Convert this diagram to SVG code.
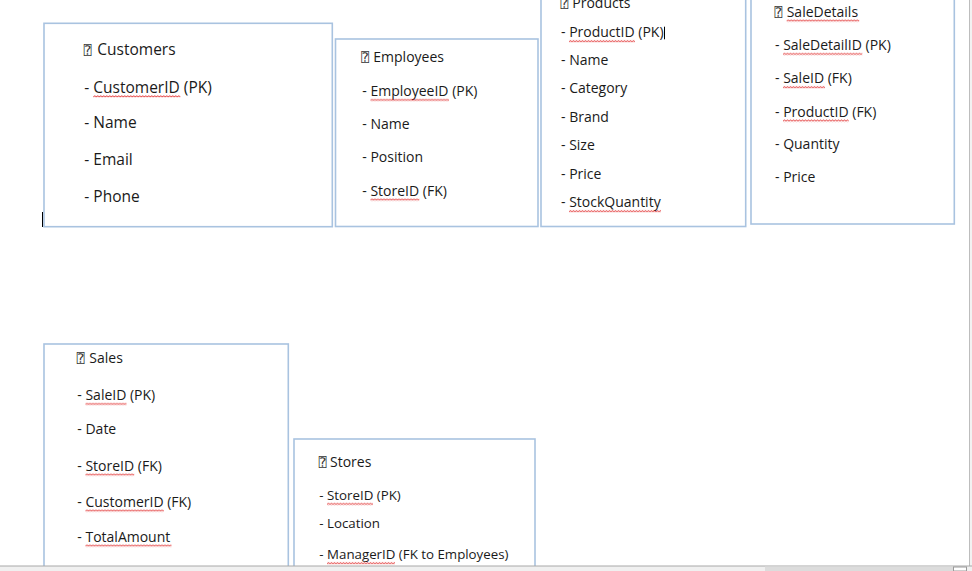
<svg xmlns="http://www.w3.org/2000/svg" width="972" height="571" viewBox="0 0 972 571">
<style>
.box{fill:#ffffff;stroke:#a9c3e0;stroke-width:1.6}
.t{font-family:"Open Sans","Noto Sans","Liberation Sans",sans-serif;font-size:14px;fill:#1a1a1a}
.tl{font-size:15.5px}
.ts{font-size:13.3px}
.ic{font-family:"DejaVu Sans Mono","DejaVu Sans",monospace;font-size:13px;fill:#333}
.sq{fill:url(#wave)}
.cur{stroke:#000;stroke-width:1}
</style>
<defs>
<pattern id="wave" patternUnits="userSpaceOnUse" width="3" height="3">
<path d="M0,2.4 L1.5,0.6 L3,2.4" fill="none" stroke="#e02828" stroke-width="1"/>
</pattern>
</defs>
<rect x="0" y="0" width="972" height="571" fill="#ffffff"/>

<g id="customers">
<rect class="box" x="44" y="23.3" width="288.3" height="203.4"/>
<text class="ic" x="83.8" y="55">⍰</text>
<text class="t tl" x="97.3" y="55">Customers</text>
<text class="t tl" x="84.3" y="92.5">- CustomerID (PK)</text>
<text class="t tl" x="84.3" y="128.3">- Name</text>
<text class="t tl" x="84.3" y="165">- Email</text>
<text class="t tl" x="84.3" y="201.7">- Phone</text>
<rect class="sq" transform="translate(93.3,95)" width="87" height="3"/>
</g>

<g id="employees">
<rect class="box" x="335.5" y="39" width="202.5" height="187.5"/>
<text class="ic" x="361.2" y="62.3">⍰</text>
<text class="t" x="373.3" y="62.3">Employees</text>
<text class="t" x="362.3" y="96">- EmployeeID (PK)</text>
<text class="t" x="362.3" y="129">- Name</text>
<text class="t" x="362.3" y="161.7">- Position</text>
<text class="t" x="362.3" y="195.7">- StoreID (FK)</text>
<rect class="sq" transform="translate(370.5,98.5)" width="78.5" height="3"/>
<rect class="sq" transform="translate(370.5,198.2)" width="48.8" height="3"/>
</g>

<g id="products">
<rect class="box" x="541" y="-3" width="204.7" height="229.5"/>
<text class="ic" x="560.5" y="7.5">⍰</text>
<text class="t" x="572.3" y="7.5">Products</text>
<text class="t" x="561" y="37.3">- ProductID (PK)</text>
<text class="t" x="561" y="65">- Name</text>
<text class="t" x="561" y="93.3">- Category</text>
<text class="t" x="561" y="122">- Brand</text>
<text class="t" x="561" y="150">- Size</text>
<text class="t" x="561" y="179">- Price</text>
<text class="t" x="561" y="207.3">- StockQuantity</text>
<rect class="sq" transform="translate(569,39.8)" width="66" height="3"/>
<rect class="sq" transform="translate(569,209.8)" width="92" height="3"/>
<line class="cur" x1="664.5" y1="26.7" x2="664.5" y2="39.3"/>
</g>

<g id="saledetails">
<rect class="box" x="751" y="-3" width="203.3" height="227"/>
<text class="ic" x="774.5" y="16.7">⍰</text>
<text class="t" x="786.7" y="16.7">SaleDetails</text>
<text class="t" x="775" y="50">- SaleDetailID (PK)</text>
<text class="t" x="775" y="83.3">- SaleID (FK)</text>
<text class="t" x="775" y="116.7">- ProductID (FK)</text>
<text class="t" x="775" y="149">- Quantity</text>
<text class="t" x="775" y="181.7">- Price</text>
<rect class="sq" transform="translate(786.7,19.2)" width="72.5" height="3"/>
<rect class="sq" transform="translate(783,52.5)" width="79.3" height="3"/>
<rect class="sq" transform="translate(783,85.8)" width="42" height="3"/>
<rect class="sq" transform="translate(783,119.2)" width="65.7" height="3"/>
</g>

<g id="sales">
<rect class="box" x="44" y="344" width="244.3" height="240"/>
<text class="ic" x="76.8" y="362.7">⍰</text>
<text class="t" x="89.3" y="362.7">Sales</text>
<text class="t" x="77.3" y="400">- SaleID (PK)</text>
<text class="t" x="77.3" y="434.3">- Date</text>
<text class="t" x="77.3" y="470.7">- StoreID (FK)</text>
<text class="t" x="77.3" y="506.7">- CustomerID (FK)</text>
<text class="t" x="77.3" y="541.7">- TotalAmount</text>
<rect class="sq" transform="translate(85.5,402.5)" width="41" height="3"/>
<rect class="sq" transform="translate(85.5,473.2)" width="48.7" height="3"/>
<rect class="sq" transform="translate(85.5,509.2)" width="78.3" height="3"/>
<rect class="sq" transform="translate(85.5,544.2)" width="86" height="3"/>
</g>

<g id="stores">
<rect class="box" x="294" y="439" width="241" height="145"/>
<text class="ic" x="318.8" y="466.7">⍰</text>
<text class="t" x="330" y="466.7">Stores</text>
<text class="t ts" x="319.3" y="500">- StoreID (PK)</text>
<text class="t ts" x="319.3" y="528.3">- Location</text>
<text class="t ts" x="319.3" y="559.3">- ManagerID (FK to Employees)</text>
<rect class="sq" transform="translate(327,502.5)" width="46" height="3"/>
<rect class="sq" transform="translate(327,561.8)" width="68" height="3"/>
</g>

<g id="connectors"></g>

<g id="window">
<line class="cur" x1="42.5" y1="212" x2="42.5" y2="227"/>
<line x1="969.5" y1="0" x2="969.5" y2="566" stroke="#bdbdbd" stroke-width="1"/>
<rect x="970" y="0" width="2" height="566" fill="#f2f2f2"/>
<rect x="0" y="566" width="972" height="5" fill="#f0f0f0"/>
<line x1="0" y1="566" x2="972" y2="566" stroke="#a8a8a8" stroke-width="1"/>
<rect x="765" y="566.5" width="188" height="4.5" fill="#dcdcdc"/>
<rect x="953.5" y="567" width="13" height="4" fill="#ffffff" stroke="#9a9a9a" stroke-width="1"/>
</g>
</svg>
